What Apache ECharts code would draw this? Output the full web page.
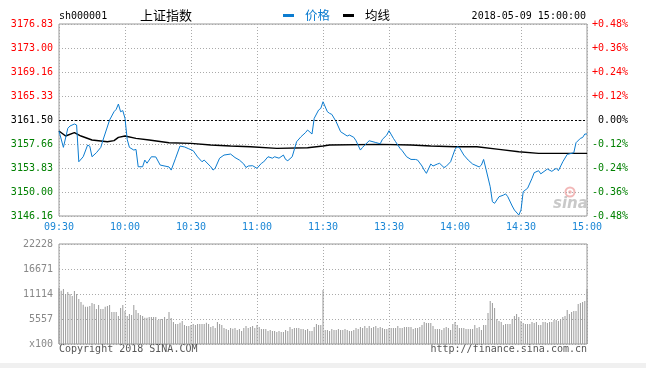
<!DOCTYPE html>
<html>
<head>
<meta charset="utf-8">
<script src="https://cdn.jsdelivr.net/npm/echarts@6/dist/echarts.min.js"></script>
<style>
html,body{margin:0;padding:0;background:#fff;}
#chart{width:646px;height:368px;}
</style>
</head>
<body>
<div id="chart"></div>
<script>
// ---------- data ----------
const timeLabels = ['09:30','10:00','10:30','11:00','11:30','13:30','14:00','14:30','15:00'];
const priceTicks = ['3146.16','3150.00','3153.83','3157.66','3161.50','3165.33','3169.16','3173.00','3176.83'];
const pctTicks = ['-0.48%','-0.36%','-0.24%','-0.12%','0.00%','+0.12%','+0.24%','+0.36%','+0.48%'];
const volTicks = ['x100','5557','11114','16671','22228'];
const prevClose = 3161.50;

const priceMinutes = [0,2,4,5,7,8,9,11,13,14,15,17,19,20,23,25,26,27,28,29,30,31,32,34,35,36,38,39,40,42,44,46,50,51,53,55,57,59,61,63,65,66,69,70,71,73,75,78,80,82,84,85,86,88,90,92,93,95,97,98,100,102,103,104,106,108,110,112,113,115,116,118,119,120,122,123,124,126,128,131,132,134,135,137,138,139,141,144,146,147,149,150,152,153,155,156,158,160,162,163,165,166,167,169,170,172,173,175,176,178,180,181,182,184,186,188,191,192,193,194,196,197,198,200,202,203,204,206,207,209,210,211,213,215,216,218,219,222,224,226,227,229,231,234,235,237,238,239,240];
const prices = [3159.74,3157.13,3160.17,3160.54,3160.86,3160.70,3154.83,3155.63,3157.50,3157.30,3155.63,3156.27,3157.13,3158.30,3161.50,3162.82,3163.20,3164.05,3162.82,3163.00,3161.76,3158.41,3157.13,3156.70,3156.80,3154.03,3154.03,3155.10,3154.60,3155.63,3155.60,3154.30,3154.00,3153.50,3155.40,3157.34,3157.20,3156.90,3156.60,3155.60,3154.83,3155.10,3154.03,3153.50,3153.80,3155.40,3155.90,3156.06,3155.50,3155.10,3154.47,3153.90,3154.15,3154.20,3153.78,3154.58,3154.80,3155.63,3155.40,3155.63,3155.40,3155.90,3155.20,3155.00,3155.63,3158.03,3158.83,3159.47,3159.90,3159.26,3161.76,3163.09,3163.36,3164.42,3162.82,3162.56,3162.40,3161.22,3159.63,3158.94,3159.10,3158.73,3158.19,3156.70,3157.13,3157.50,3158.19,3157.90,3157.70,3158.41,3159.10,3159.79,3158.57,3158.03,3156.97,3156.60,3155.63,3155.20,3155.20,3155.10,3154.15,3153.50,3152.98,3154.47,3154.15,3154.47,3154.58,3153.90,3154.10,3154.83,3156.81,3157.23,3157.10,3155.90,3155.10,3154.47,3154.00,3154.30,3155.20,3153.78,3150.84,3148.45,3148.19,3149.24,3149.50,3149.70,3149.24,3147.76,3147.12,3146.32,3147.12,3150.05,3150.60,3152.18,3153.08,3153.40,3152.90,3153.67,3153.30,3153.78,3153.40,3154.83,3156.00,3156.27,3157.87,3158.57,3158.70,3159.26,3159.26];

const avgMinutes = [0,3,7,10,15,22,25,27,30,35,41,50,60,69,78,87,99,113,120,123,146,160,169,180,190,200,209,218,240];
const avgPrices = [3159.74,3158.94,3159.47,3158.94,3158.30,3158.03,3158.20,3158.73,3158.94,3158.57,3158.30,3157.87,3157.77,3157.50,3157.34,3157.23,3156.97,3157.07,3157.34,3157.50,3157.61,3157.50,3157.34,3157.23,3157.23,3156.81,3156.43,3156.17,3156.17];

const volumes = [
12447,11855,12225,11114,11558,11114,10669,11780,11114,10002,
9335,8743,8298,8298,8446,9113,8891,7779,8669,7779,
7779,8298,8446,8669,7113,7113,7113,6224,8002,8669,
7335,6224,6668,6446,8669,7557,6890,6446,6224,5853,
5853,6001,6001,6001,6001,5334,5557,5557,6001,5557,
7113,5779,4890,4445,4445,4742,5112,4223,4001,4001,
4223,4445,4223,4445,4445,4445,4445,4742,4445,3779,
4001,3556,4890,4445,4223,3556,3334,3112,3556,3400,
3556,3112,3334,2890,3556,4001,3556,3779,4001,3556,
4223,3779,3334,3334,3334,2890,3112,2890,2890,2667,
2890,2667,2667,3112,2890,3779,3334,3556,3556,3556,
3334,3334,3112,3334,2890,2890,3779,4445,4223,4223,
12003,
3112,3112,2890,3334,3112,3112,3334,3112,3112,3334,
3112,2890,2890,3112,3556,3334,3779,3556,4001,3556,
4001,3556,3779,4001,3556,3779,3556,3334,3334,3556,
3556,3556,3556,4001,3556,3556,3779,3779,3779,
3779,3334,3556,3556,3779,4223,4890,4668,4668,4668,
4001,3334,3334,3334,3112,3556,3779,3556,3112,4445,
4890,4223,3556,3556,3556,3334,3334,3334,3334,4223,
3556,3779,3112,4223,4223,6890,9558,9113,8002,5557,
5112,4890,4223,4445,4445,4445,5557,6224,6668,6001,
5112,4668,4445,4445,4445,4890,4668,4890,4223,4223,
4890,4890,4668,4890,4890,5334,5334,5112,5557,6001,
6224,7557,6668,7113,7335,7335,8891,9113,9335,9558,
12225
];

// ---------- chart ----------
const BLUE = '#0c7cd0';
const LBLUE = '#1a86d6';
const RED = '#ff0000';
const GREEN = '#008000';
const MONO = 'DejaVu Sans Mono';
const CJK = 'Noto Sans CJK SC';
const yInt = 3.83375, yMin = -4 * yInt, yMax = 4 * yInt;
const idxOf = v => Math.round((v - yMin) / yInt);
const lvlColor = v => { const i = idxOf(v); return i > 4 ? RED : (i === 4 ? '#000' : GREEN); };
const gridLine = { show: true, lineStyle: { color: '#aaaaaa', type: [1, 2], width: 1 } };

const chart = echarts.init(document.getElementById('chart'), null, { renderer: 'canvas' });
chart.setOption({
  animation: false,
  backgroundColor: '#fff',
  grid: [
    { left: 59, top: 24, width: 528, height: 192, show: true, borderColor: '#999', borderWidth: 1, backgroundColor: 'transparent' },
    { left: 59, top: 244, width: 528, height: 100, show: true, borderColor: '#999', borderWidth: 1, backgroundColor: 'transparent' }
  ],
  xAxis: [
    { type: 'value', gridIndex: 0, min: 0, max: 240, interval: 30,
      axisLine: { show: false }, axisTick: { show: false },
      axisLabel: { margin: 6, color: LBLUE, fontFamily: MONO, fontSize: 10,
        formatter: v => timeLabels[Math.round(v / 30)] },
      splitLine: gridLine },
    { type: 'value', gridIndex: 1, min: 0, max: 240, interval: 30,
      axisLine: { show: false }, axisTick: { show: false }, axisLabel: { show: false },
      splitLine: gridLine }
  ],
  yAxis: [
    { type: 'value', gridIndex: 0, position: 'left', min: yMin, max: yMax, interval: yInt,
      axisLine: { show: false }, axisTick: { show: false },
      axisLabel: { margin: 6, fontFamily: MONO, fontSize: 10,
        color: v => lvlColor(v), formatter: v => priceTicks[idxOf(v)] },
      splitLine: gridLine },
    { type: 'value', gridIndex: 0, position: 'right', min: yMin, max: yMax, interval: yInt,
      axisLine: { show: false }, axisTick: { show: false },
      axisLabel: { margin: 41, align: 'right', fontFamily: MONO, fontSize: 10,
        color: v => lvlColor(v), formatter: v => pctTicks[idxOf(v)] },
      splitLine: { show: false } },
    { type: 'value', gridIndex: 1, min: 0, max: 22228, interval: 5557,
      axisLine: { show: false }, axisTick: { show: false },
      axisLabel: { margin: 6, fontFamily: MONO, fontSize: 10, color: '#888',
        formatter: v => volTicks[Math.round(v / 5557)] },
      splitLine: gridLine }
  ],
  series: [
    { name: '均线', type: 'line', xAxisIndex: 0, yAxisIndex: 0, symbol: 'none', z: 3,
      lineStyle: { color: '#000', width: 1.4 },
      data: avgMinutes.map((m, i) => [m, +(avgPrices[i] - prevClose).toFixed(2)]) },
    { name: '价格', type: 'line', xAxisIndex: 0, yAxisIndex: 0, symbol: 'none', z: 4,
      lineStyle: { color: BLUE, width: 1 },
      data: priceMinutes.map((m, i) => [m, +(prices[i] - prevClose).toFixed(2)]),
      markLine: { silent: true, symbol: 'none', label: { show: false },
        lineStyle: { color: '#000', type: [2, 2], width: 1 },
        data: [{ yAxis: 0 }] } },
    { name: '成交量', type: 'bar', xAxisIndex: 1, yAxisIndex: 2, barWidth: 1,
      itemStyle: { color: '#9a9a9a' },
      data: volumes.map((v, i) => [i, v]) }
  ],
  graphic: [
    { type: 'rect', left: 0, top: 363, shape: { width: 646, height: 5 }, style: { fill: '#f0f0f0' }, silent: true },
    { type: 'text', left: 59, top: 11, style: { text: 'sh000001', font: '10px "' + MONO + '"', fill: '#000' } },
    { type: 'text', left: 140, top: 9, style: { text: '上证指数', font: '13px "' + CJK + '"', fill: '#000' } },
    { type: 'rect', left: 283, top: 14, shape: { width: 11, height: 3 }, style: { fill: BLUE } },
    { type: 'text', left: 305, top: 9, style: { text: '价格', font: '12.5px "' + CJK + '"', fill: BLUE } },
    { type: 'rect', left: 343, top: 14, shape: { width: 11, height: 3 }, style: { fill: '#000' } },
    { type: 'text', left: 365, top: 9, style: { text: '均线', font: '12.5px "' + CJK + '"', fill: '#000' } },
    { type: 'text', right: 60, top: 11, style: { text: '2018-05-09 15:00:00', font: '10px "' + MONO + '"', fill: '#000' } },
    { type: 'text', left: 59, top: 344, style: { text: 'Copyright 2018 SINA.COM', font: '10px "' + MONO + '"', fill: '#555' } },
    { type: 'text', right: 59, top: 344, style: { text: 'http://finance.sina.com.cn', font: '10px "' + MONO + '"', fill: '#555' } },
    { type: 'circle', shape: { cx: 570, cy: 192, r: 4.5 }, style: { fill: 'none', stroke: '#f2b8b8', lineWidth: 2 }, silent: true },
    { type: 'circle', shape: { cx: 570, cy: 192, r: 1.8 }, style: { fill: '#f2b8b8' }, silent: true },
    { type: 'text', left: 553, top: 197, style: { text: 'sina', font: 'italic bold 15px "DejaVu Sans"', fill: '#c9c9c9' }, silent: true }
  ]
});
</script>
</body>
</html>
